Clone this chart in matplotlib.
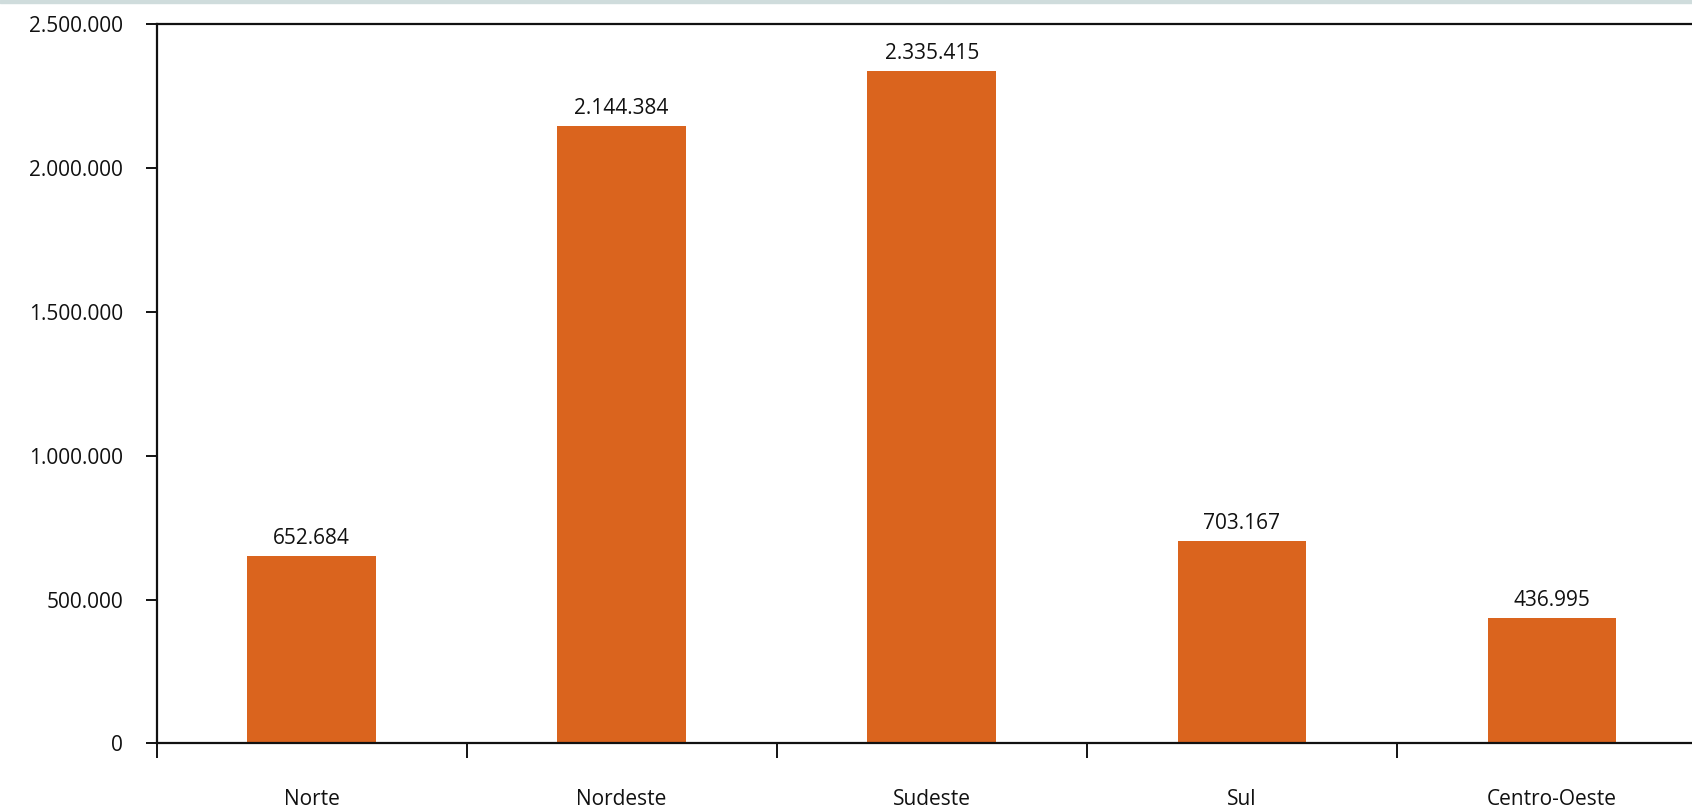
import numpy as np
import matplotlib
matplotlib.use("Agg")
import matplotlib.pyplot as plt
from matplotlib.ticker import FuncFormatter, FixedLocator

regions = ["Norte", "Nordeste", "Sudeste", "Sul", "Centro-Oeste"]
values = [652684, 2144384, 2335415, 703167, 436995]
y_ticks = [0, 500000, 1000000, 1500000, 2000000, 2500000]

bar_color = "#DA641E"


def fmt_br(v, pos=None):
    """Thousands separated with dots, as in pt-BR."""
    return f"{int(v):,}".replace(",", ".")


plt.rcParams["font.family"] = ["Open Sans", "DejaVu Sans"]

fig = plt.figure(figsize=(16.92, 8.10), dpi=100)
ax = fig.add_axes([0.0925, 0.0821, 0.9164, 0.8886])

x = np.arange(len(regions))
ax.bar(x, values, width=0.415, color=bar_color, zorder=2)

for xi, v in zip(x, values):
    ax.annotate(fmt_br(v), (xi, v), xytext=(0, 5), textcoords="offset points",
                ha="center", va="bottom", fontsize=15, fontweight="medium",
                color="#111111")

ax.set_xlim(-0.5, len(regions) - 0.5)
ax.set_ylim(0, 2500000)
ax.set_yticks(y_ticks)
ax.yaxis.set_major_formatter(FuncFormatter(fmt_br))

ax.set_xticks(x)
ax.set_xticklabels(regions)
ax.xaxis.set_minor_locator(FixedLocator(np.arange(-0.5, len(regions), 1.0)))
ax.tick_params(axis="x", which="major", length=0, pad=33, labelsize=15)
ax.tick_params(axis="x", which="minor", length=11, width=1.3, direction="out")
ax.tick_params(axis="y", length=8, width=1.3, pad=16, labelsize=15)
for lbl in ax.get_xticklabels() + ax.get_yticklabels():
    lbl.set_fontweight("medium")
    lbl.set_color("#111111")

for side in ["left", "bottom", "top"]:
    ax.spines[side].set_linewidth(1.6)
    ax.spines[side].set_color("#111111")
ax.spines["right"].set_visible(False)

# thin strip at the very top of the image
fig.add_artist(plt.Rectangle((0, 0.996), 1, 0.004, transform=fig.transFigure,
                             color="#cfdcdc", clip_on=False))

fig.savefig("out.png", dpi=100)
